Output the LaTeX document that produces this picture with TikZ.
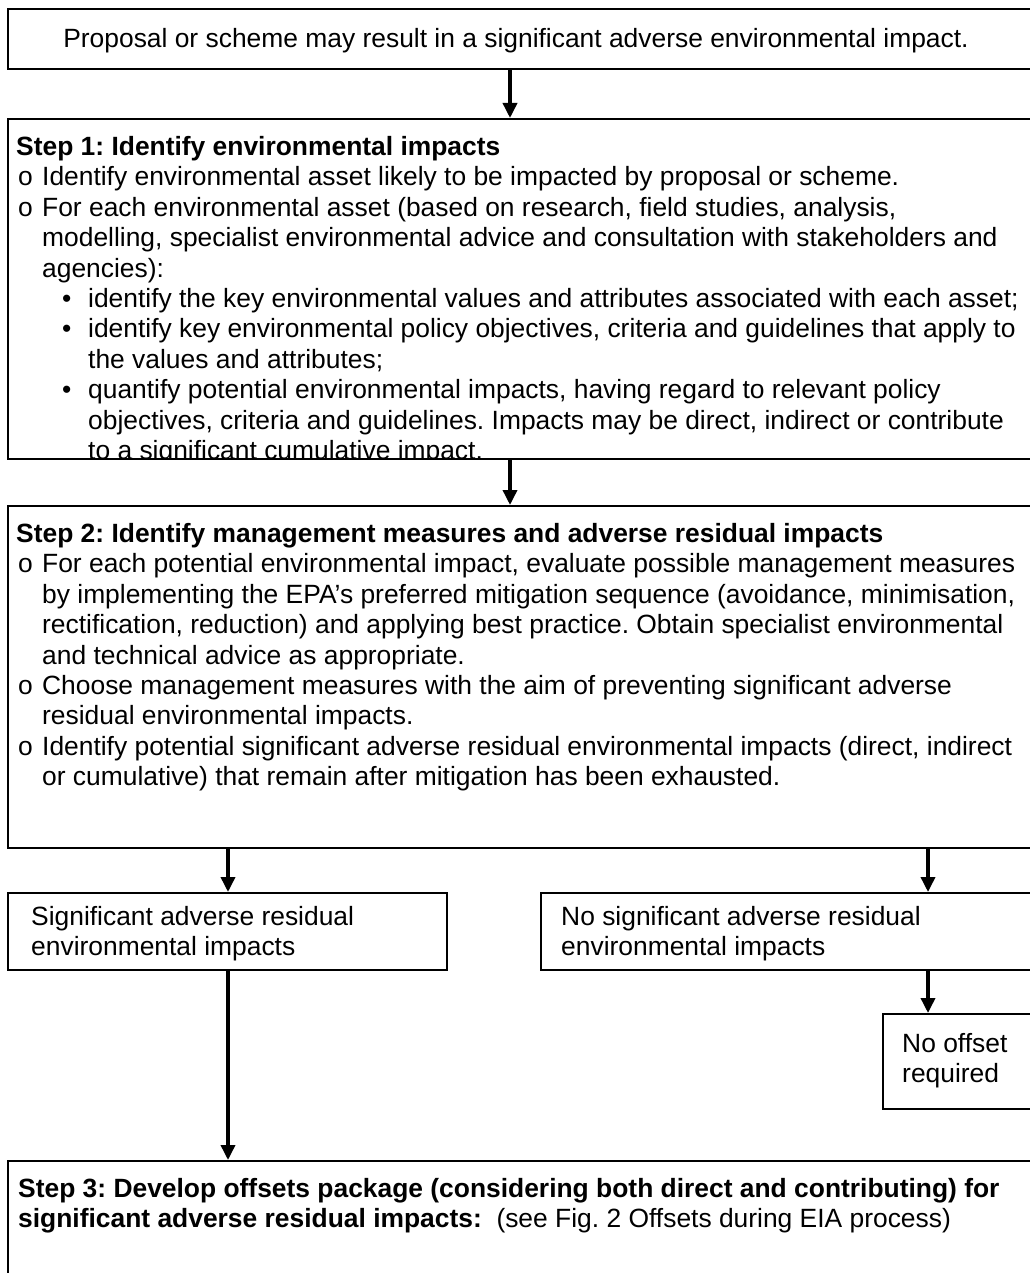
\documentclass[tikz,border=0pt]{standalone}
\usepackage{fontspec}
\setmainfont{Liberation Sans}
\usetikzlibrary{arrows.meta}
\frenchspacing
\newcommand{\circitem}{\makebox[26pt][l]{\hspace{2pt}o}}
\newcommand{\circind}{\hspace*{26pt}}
\newcommand{\dotitem}{\hspace*{46pt}\makebox[26pt][l]{\textbullet}}
\newcommand{\dotind}{\hspace*{72pt}}
\begin{document}
\begin{tikzpicture}[x=1pt, y=-1pt,
  every node/.style={font=\fontsize{26.4}{30.4}\selectfont},
  box/.style={draw, line width=1.8pt, inner sep=0pt, anchor=north west},
  txt/.style={inner sep=0pt, anchor=north west, align=left},
  flow/.style={line width=3.5pt, -{Triangle[length=15pt,width=14pt]}}]
  \useasboundingbox (0,0) rectangle (1029,1273);

  \coordinate (cmid) at (510,0);
  \coordinate (cleft) at (228,0);
  \coordinate (cright) at (928,0);

  \node[box, minimum width=1030, minimum height=60] (start) at (7,8) {};
  \node[anchor=base, inner sep=0pt] (starttext) at (516,47.5)
    {Proposal or scheme may result in a significant adverse environmental impact.};

  \node[box, minimum width=1030, minimum height=340] (step1) at (7,118) {};
  \begin{scope}
    \clip (step1.north west) rectangle (step1.south east);
    \node[txt] (step1text) at (16,134) {\strut\textbf{Step 1: Identify environmental impacts}\\
      \circitem Identify environmental asset likely to be impacted by proposal or scheme.\\
      \circitem For each environmental asset (based on research, field studies, analysis,\\
      \circind modelling, specialist environmental advice and consultation with stakeholders and\\
      \circind agencies):\\
      \dotitem identify the key environmental values and attributes associated with each asset;\\
      \dotitem identify key environmental policy objectives, criteria and guidelines that apply to\\
      \dotind the values and attributes;\\
      \dotitem quantify potential environmental impacts, having regard to relevant policy\\
      \dotind objectives, criteria and guidelines. Impacts may be direct, indirect or contribute\\
      \dotind to a significant cumulative impact.};
  \end{scope}

  \node[box, minimum width=1030, minimum height=342] (step2) at (7,505) {};
  \node[txt] (step2text) at (16,521) {\strut\textbf{Step 2: Identify management measures and adverse residual impacts}\\
    \circitem For each potential environmental impact, evaluate possible management measures\\
    \circind by implementing the EPA’s preferred mitigation sequence (avoidance, minimisation,\\
    \circind rectification, reduction) and applying best practice. Obtain specialist environmental\\
    \circind and technical advice as appropriate.\\
    \circitem Choose management measures with the aim of preventing significant adverse\\
    \circind residual environmental impacts.\\
    \circitem Identify potential significant adverse residual environmental impacts (direct, indirect\\
    \circind or cumulative) that remain after mitigation has been exhausted.};

  \node[box, minimum width=439, minimum height=77] (sig) at (7,892) {};
  \node[txt] (sigtext) at (31,904) {\strut Significant adverse residual\\environmental impacts};

  \node[box, minimum width=500, minimum height=77] (nosig) at (540,892) {};
  \node[txt] (nosigtext) at (561,904) {\strut No significant adverse residual\\environmental impacts};

  \node[box, minimum width=160, minimum height=95] (nooffset) at (882,1013) {};
  \node[txt] (nooffsettext) at (902,1031) {\strut No offset\\required};

  \node[box, minimum width=1030, minimum height=150] (step3) at (7,1160) {};
  \node[txt] (step3text) at (18,1176) {\strut\textbf{Step 3: Develop offsets package (considering both direct and contributing) for}\\
    \textbf{significant adverse residual impacts:}\ \ (see Fig. 2 Offsets during EIA process)};

  \draw[flow] (cmid |- start.south) -- (cmid |- step1.north);
  \draw[flow] (cmid |- step1.south) -- (cmid |- step2.north);
  \draw[flow] (cleft |- step2.south) -- (cleft |- sig.north);
  \draw[flow] (cright |- step2.south) -- (cright |- nosig.north);
  \draw[flow] (cleft |- sig.south) -- (cleft |- step3.north);
  \draw[flow] (cright |- nosig.south) -- (cright |- nooffset.north);
\end{tikzpicture}
\end{document}
